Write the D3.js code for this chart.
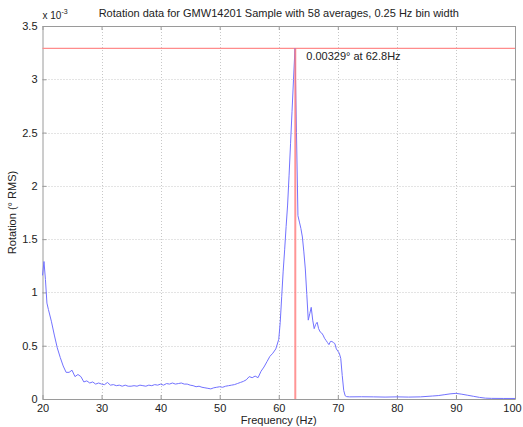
<!DOCTYPE html>
<html>
<head>
<meta charset="utf-8">
<script src="https://cdn.jsdelivr.net/npm/d3@7"></script>
<style>
  body { margin: 0; background: #fff; }
  svg text { font-family: "Liberation Sans", Arial, sans-serif; fill: #222; }
</style>
</head>
<body>
<svg id="chart" width="523" height="427"></svg>
<script>
// Rotation spectrum, values in units of 1e-3 degrees RMS.
const freq = [20, 20.25, 20.5, 20.75, 21, 21.5, 22, 22.5, 23, 23.5, 24, 24.5, 25, 25.5, 26, 26.5,
  27, 27.5, 28, 28.5, 29, 29.5, 30, 30.5, 31, 31.5, 32, 32.5, 33, 33.5, 34, 34.5, 35, 35.5, 36,
  36.5, 37, 37.5, 38, 38.5, 39, 39.5, 40, 40.5, 41, 41.5, 42, 42.5, 43, 43.5, 44, 44.5, 45, 45.5,
  46, 46.5, 47, 47.5, 48, 48.5, 49, 49.5, 50, 50.5, 51, 51.5, 52, 52.5, 53, 53.5, 54, 54.5, 55,
  55.5, 56, 56.5, 57, 57.5, 58, 58.5, 59, 59.5, 60, 60.25, 60.5, 60.75, 61, 61.25, 61.5, 61.75,
  62, 62.25, 62.5, 62.75, 63, 63.25, 63.5, 63.75, 64, 64.25, 64.5, 64.75, 65, 65.25, 65.5, 65.75,
  66, 66.25, 66.5, 66.75, 67, 67.25, 67.5, 67.75, 68, 68.25, 68.5, 68.75, 69, 69.25, 69.5, 69.75,
  70, 70.25, 70.5, 70.75, 71, 71.25, 71.5, 72, 74, 76, 78, 80, 82, 84, 86, 87, 88, 89, 90, 91,
  92, 93, 94, 95, 96, 98, 100];
const rotation = [1.16, 1.29, 1.12, 0.90, 0.84, 0.73, 0.60, 0.48, 0.39, 0.31, 0.25, 0.25, 0.27,
  0.21, 0.23, 0.21, 0.16, 0.17, 0.15, 0.16, 0.14, 0.15, 0.14, 0.135, 0.155, 0.13, 0.135, 0.125,
  0.13, 0.12, 0.13, 0.12, 0.12, 0.125, 0.12, 0.13, 0.125, 0.12, 0.13, 0.125, 0.135, 0.13, 0.14,
  0.13, 0.145, 0.14, 0.15, 0.14, 0.145, 0.15, 0.14, 0.14, 0.13, 0.125, 0.115, 0.12, 0.11, 0.105,
  0.10, 0.095, 0.105, 0.11, 0.115, 0.11, 0.12, 0.125, 0.13, 0.135, 0.145, 0.155, 0.165, 0.18,
  0.21, 0.20, 0.215, 0.20, 0.26, 0.30, 0.35, 0.40, 0.43, 0.47, 0.56, 0.72, 0.96, 1.20, 1.40, 1.62,
  1.82, 2.10, 2.40, 2.70, 3.00, 3.29, 2.50, 1.72, 1.66, 1.60, 1.52, 1.38, 1.22, 0.98, 0.74, 0.80,
  0.86, 0.74, 0.66, 0.70, 0.72, 0.66, 0.63, 0.62, 0.60, 0.57, 0.55, 0.53, 0.51, 0.54, 0.54, 0.53,
  0.52, 0.47, 0.45, 0.43, 0.38, 0.22, 0.08, 0.03, 0.022, 0.02, 0.021, 0.02, 0.018, 0.02, 0.018,
  0.02, 0.028, 0.032, 0.04, 0.048, 0.053, 0.045, 0.035, 0.025, 0.015, 0.008, 0.006, 0.005, 0.005];

const xTicks = [20, 30, 40, 50, 60, 70, 80, 90, 100];
const yTicks = [0, 0.5, 1, 1.5, 2, 2.5, 3, 3.5];
const peakFreq = 62.8;
const peakValue = 3.29;

const margin = { left: 42.5, right: 8, top: 26, bottom: 28 };
const width = 523, height = 427;

const svg = d3.select("#chart");
const x = d3.scaleLinear().domain([20, 100]).range([margin.left, width - margin.right]);
const y = d3.scaleLinear().domain([0, 3.5]).range([height - margin.bottom, margin.top]);

// dotted grid
svg.append("g").selectAll("line")
  .data(xTicks.slice(1, -1)).enter().append("line")
  .attr("x1", d => Math.round(x(d)) + 0.5).attr("x2", d => Math.round(x(d)) + 0.5)
  .attr("y1", y(3.5)).attr("y2", y(0))
  .attr("stroke", "#c8c8c8").attr("stroke-dasharray", "1,2");
svg.append("g").selectAll("line")
  .data(yTicks.slice(1, -1)).enter().append("line")
  .attr("y1", d => Math.round(y(d)) + 0.5).attr("y2", d => Math.round(y(d)) + 0.5)
  .attr("x1", x(20)).attr("x2", x(100))
  .attr("stroke", "#c8c8c8").attr("stroke-dasharray", "1,2");

// axes (matlab style: plain number labels, inward ticks on all four sides)
const fmt = d => String(d);
const xAxis = svg.append("g")
  .attr("transform", `translate(0,${y(0)})`)
  .call(d3.axisBottom(x).tickValues(xTicks).tickFormat(fmt).tickSizeInner(-4).tickSizeOuter(0).tickPadding(6));
const yAxis = svg.append("g")
  .attr("transform", `translate(${x(20)},0)`)
  .call(d3.axisLeft(y).tickValues(yTicks).tickFormat(fmt).tickSizeInner(-4).tickSizeOuter(0).tickPadding(5));
const xTop = svg.append("g")
  .attr("transform", `translate(0,${y(3.5)})`)
  .call(d3.axisTop(x).tickValues(xTicks).tickSizeInner(-4).tickSizeOuter(0).tickFormat(""));
const yRight = svg.append("g")
  .attr("transform", `translate(${x(100)},0)`)
  .call(d3.axisRight(y).tickValues(yTicks).tickSizeInner(-4).tickSizeOuter(0).tickFormat(""));

[xAxis, yAxis, xTop, yRight].forEach(a => {
  a.select(".domain").attr("stroke", "#9a9a9a");
  a.selectAll(".tick line").attr("stroke", "#9a9a9a");
  a.selectAll("text").attr("font-size", 11).attr("fill", "#222")
    .attr("font-family", "Liberation Sans, Arial, sans-serif");
});
xAxis.selectAll("text").attr("dy", "0.6em");
// last label sits at the window edge; nudge it in so it stays whole
xAxis.selectAll(".tick text").filter(d => d === 100).attr("dx", -3);

// reference lines
svg.append("line")
  .attr("x1", x(20)).attr("x2", x(100))
  .attr("y1", y(peakValue)).attr("y2", y(peakValue))
  .attr("stroke", "#ff8c8c").attr("stroke-width", 1.2);

// data line
const line = d3.line().x((d, i) => x(freq[i])).y(d => y(d));
svg.append("path")
  .datum(rotation)
  .attr("d", line)
  .attr("fill", "none")
  .attr("stroke", "#7272ff")
  .attr("stroke-width", 1);

svg.append("line")
  .attr("x1", x(peakFreq)).attr("x2", x(peakFreq))
  .attr("y1", y(peakValue)).attr("y2", y(0))
  .attr("stroke", "#ff7a7a").attr("stroke-opacity", 0.8).attr("stroke-width", 2);

svg.append("text")
  .attr("x", x(peakFreq) + 11).attr("y", y(peakValue) + 12)
  .attr("font-size", 11)
  .text("0.00329° at 62.8Hz");

// exponent label
const expo = svg.append("text").attr("x", x(20)).attr("y", 19).attr("font-size", 10);
expo.append("tspan").text("x 10");
expo.append("tspan").attr("dy", -5).attr("font-size", 7).text("-3");

// title and axis labels
svg.append("text")
  .attr("x", (x(20) + x(100)) / 2).attr("y", 17)
  .attr("text-anchor", "middle").attr("font-size", 11)
  .text("Rotation data for GMW14201 Sample with 58 averages, 0.25 Hz bin width");

svg.append("text")
  .attr("x", (x(20) + x(100)) / 2).attr("y", 424)
  .attr("text-anchor", "middle").attr("font-size", 11)
  .text("Frequency (Hz)");

svg.append("text")
  .attr("transform", `translate(16,${(y(0) + y(3.5)) / 2}) rotate(-90)`)
  .attr("text-anchor", "middle").attr("font-size", 11)
  .text("Rotation (° RMS)");
</script>
</body>
</html>
